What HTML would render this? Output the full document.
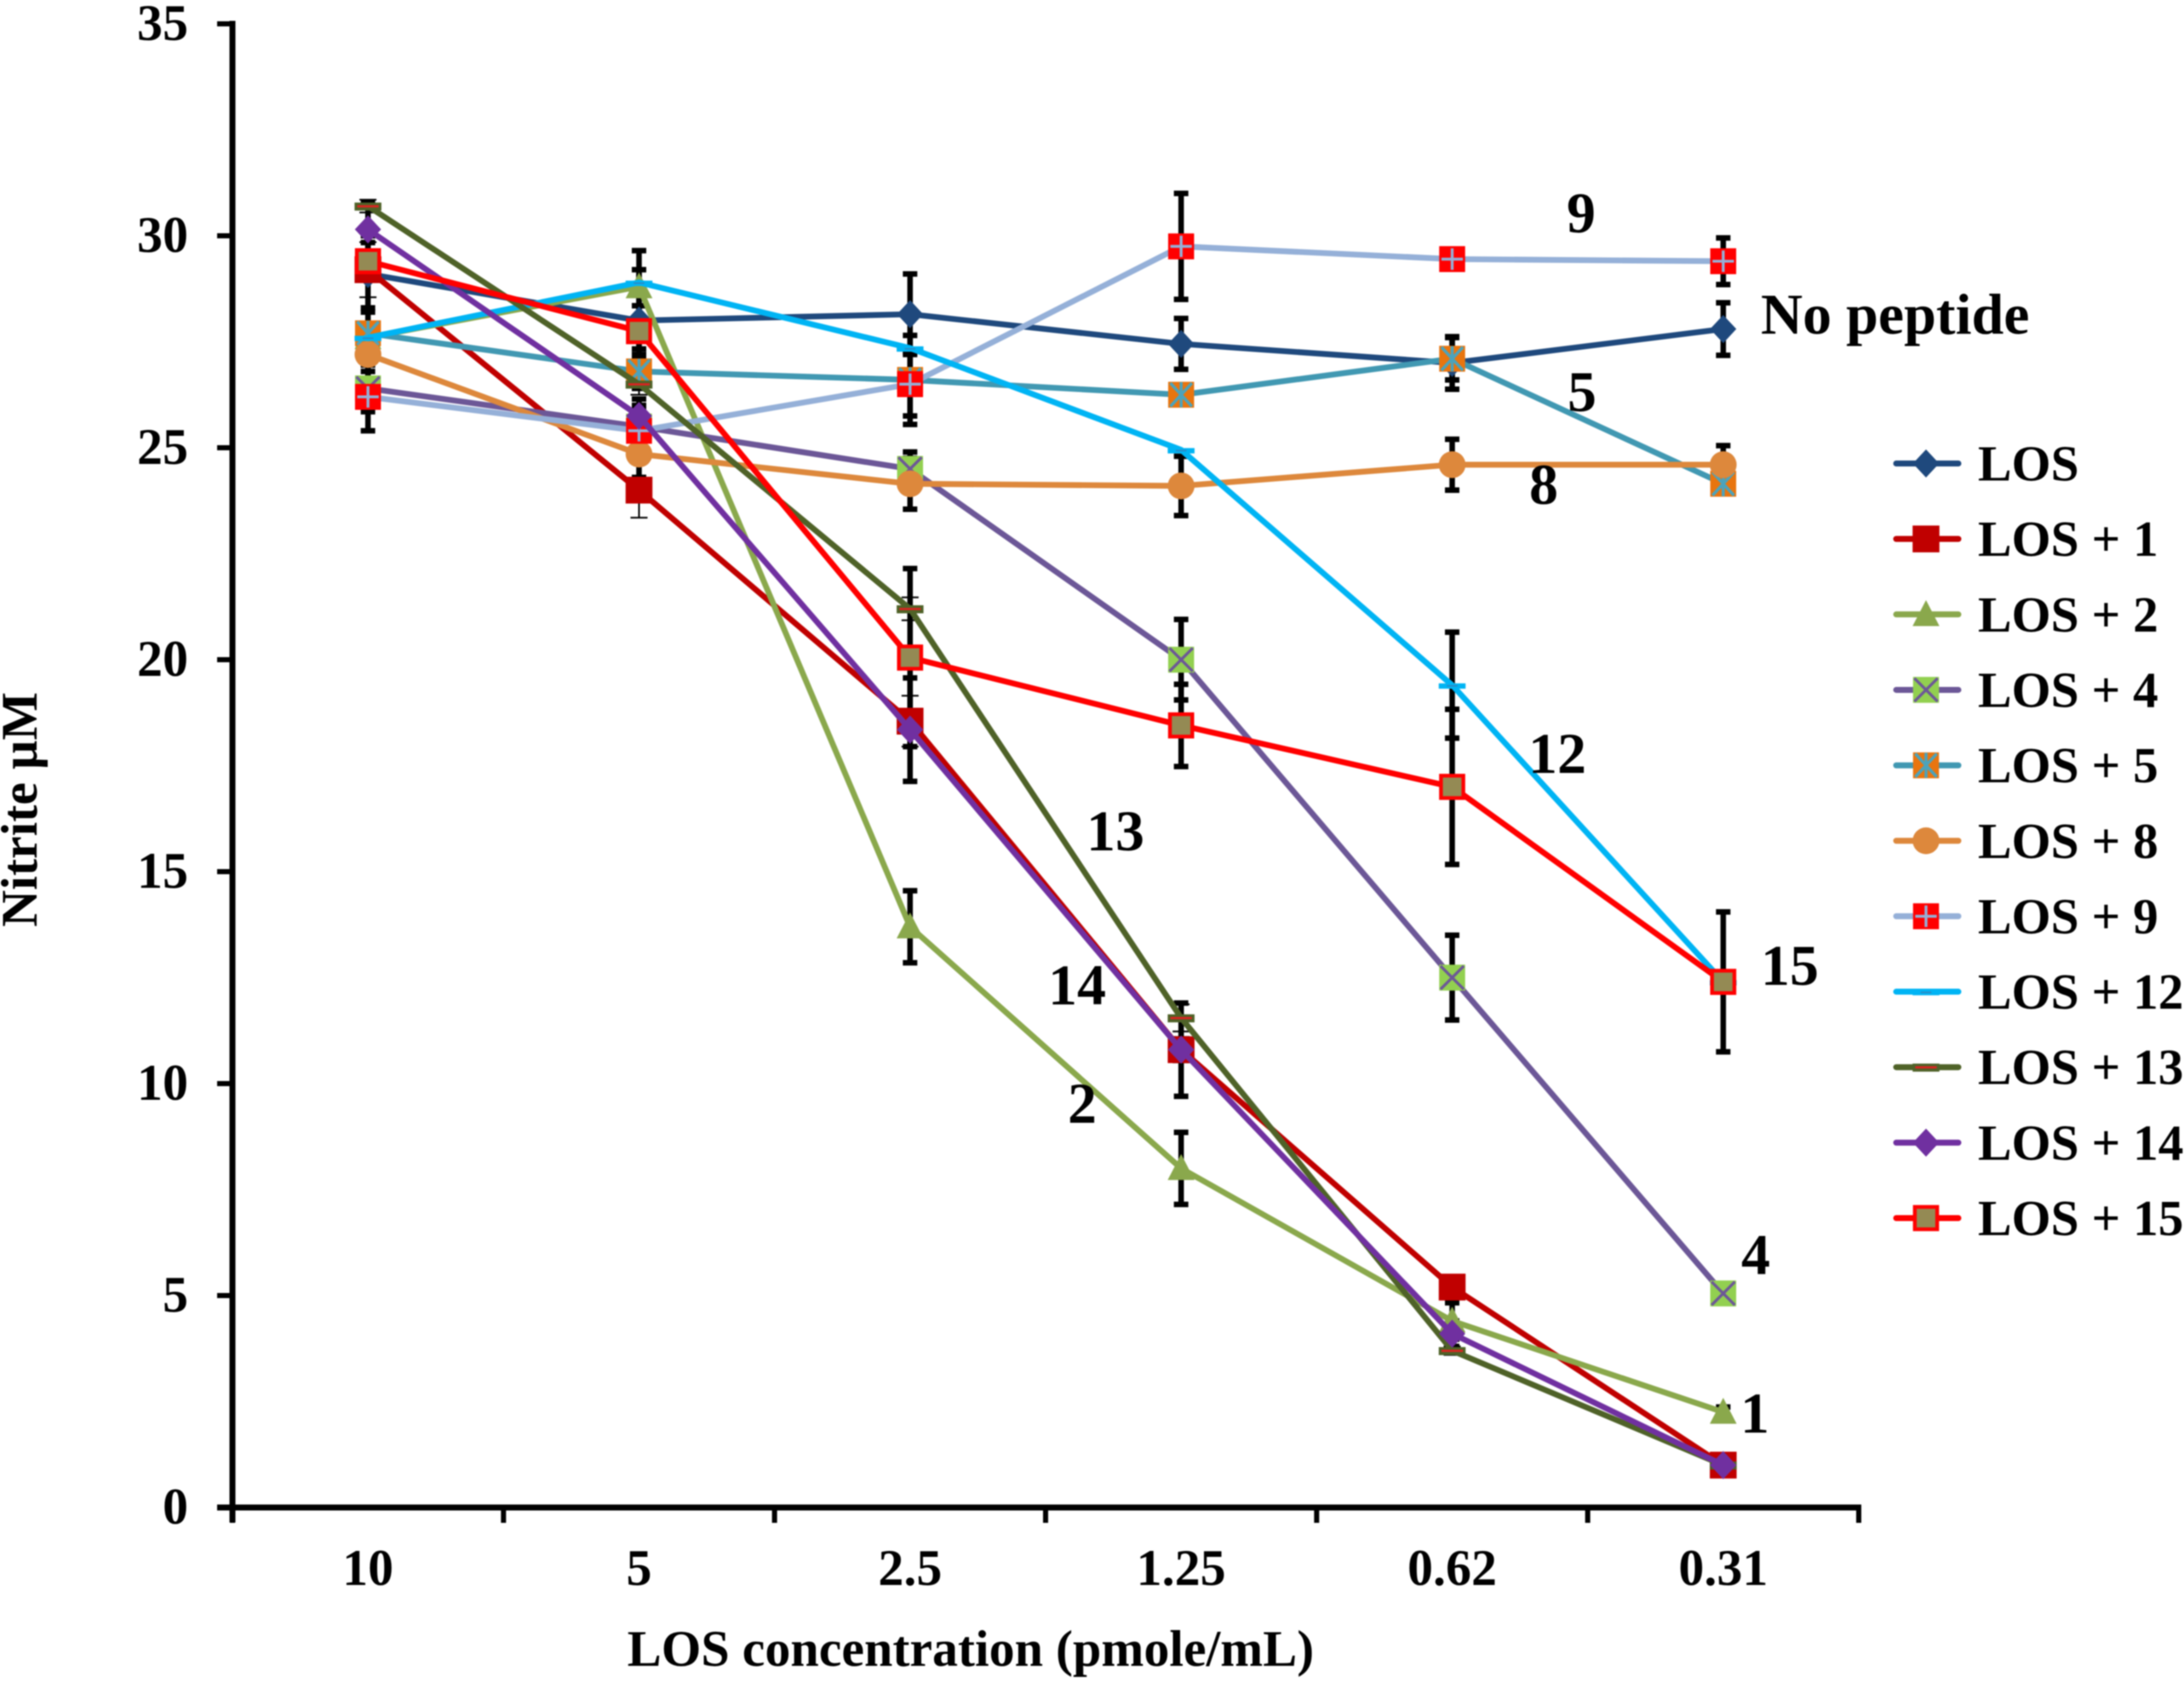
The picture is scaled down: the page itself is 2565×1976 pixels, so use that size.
<!DOCTYPE html>
<html lang="en">
<head>
<meta charset="utf-8">
<title>Nitrite vs LOS concentration</title>
<style>
html,body{margin:0;padding:0;background:#fff;}
#stage{display:block;width:2565px;height:1976px;filter:blur(0.8px);}
text{font-family:"Liberation Serif",serif;font-weight:bold;fill:#000;}
</style>
</head>
<body>
<svg id="stage" xmlns="http://www.w3.org/2000/svg" width="2565" height="1976" viewBox="0 0 2565 1976">
  <rect x="0" y="0" width="2565" height="1976" fill="#ffffff"/>
  <g id="errors"></g>
  <g id="series"></g>
  <g id="axes"></g>
  <g id="legend"></g>
  <text transform="translate(43,951) rotate(-90)" text-anchor="middle" font-size="60">Nitrite µM</text>
  <text x="1140" y="1957" text-anchor="middle" font-size="60">LOS concentration (pmole/mL)</text>
  <text x="2068" y="392" font-size="68">No peptide</text>
  <text x="1857" y="273" text-anchor="middle" font-size="68">9</text>
  <text x="1858" y="483" text-anchor="middle" font-size="68">5</text>
  <text x="1813" y="592" text-anchor="middle" font-size="68">8</text>
  <text x="1829" y="908" text-anchor="middle" font-size="68">12</text>
  <text x="1310" y="999" text-anchor="middle" font-size="68">13</text>
  <text x="1265" y="1180" text-anchor="middle" font-size="68">14</text>
  <text x="1271" y="1319" text-anchor="middle" font-size="68">2</text>
  <text x="2102" y="1157" text-anchor="middle" font-size="68">15</text>
  <text x="2062" y="1497" text-anchor="middle" font-size="68">4</text>
  <text x="2061" y="1683" text-anchor="middle" font-size="68">1</text>
</svg>
<script>
// ---- data ----
const categories = ["10", "5", "2.5", "1.25", "0.62", "0.31"];
const yTickLabels = [0, 5, 10, 15, 20, 25, 30, 35];
const seriesNames = ["LOS", "LOS + 1", "LOS + 2", "LOS + 4", "LOS + 5", "LOS + 8", "LOS + 9", "LOS + 12", "LOS + 13", "LOS + 14", "LOS + 15"];

const valuesLos   = [29.1, 28.0, 28.15, 27.45, 27.0, 27.8];
const valuesLos1  = [29.2, 24.0, 18.55, 10.8, 5.2, 1.0];
const valuesLos2  = [27.6, 28.8, 13.7, 8.0, 4.4, 2.25];
const valuesLos4  = [26.4, 25.5, 24.5, 20.0, 12.5, 5.05];
const valuesLos5  = [27.7, 26.8, 26.6, 26.25, 27.1, 24.15];
const valuesLos8  = [27.2, 24.85, 24.15, 24.1, 24.6, 24.6];
const valuesLos9  = [26.2, 25.4, 26.5, 29.75, 29.45, 29.4];
const valuesLos12 = [27.6, 28.9, 27.35, 24.95, 19.4, 12.4];
const valuesLos13 = [30.7, 26.5, 21.2, 11.55, 3.7, 1.0];
const valuesLos14 = [30.15, 25.75, 18.35, 10.8, 4.1, 1.0];
const valuesLos15 = [29.4, 27.75, 20.05, 18.45, 17.0, 12.4];

const errorLos   = [0.9, 0.67, 0.95, 0.6, 0.62, 0.62];
const errorLos1  = [0.65, 0.65, 0.6, 0.3, 0.2, 0.1];
const errorLos2  = [0.3, 0.85, 0.85, 0.85, 0.43, 0.12];
const errorLos4  = [0.55, 0.4, 0.4, 0.95, 1.0, 0.1];
const errorLos5  = [0.6, 0.4, 1.05, 0.15, 0.5, 0.2];
const errorLos8  = [0.4, 0.55, 0.6, 0.7, 0.6, 0.45];
const errorLos9  = [0.8, 0.6, 0.75, 1.25, 0, 0.55];
const errorLos12 = [0, 0.3, 0, 0, 1.25, 0];
const errorLos13 = [0.15, 0.25, 0.27, 0.32, 0.1, 0.05];
const errorLos14 = [0.63, 0.4, 1.22, 1.1, 0.3, 0.05];
const errorLos15 = [0.44, 0.6, 2.1, 0.97, 1.83, 1.65];

const seriesValues = [valuesLos, valuesLos1, valuesLos2, valuesLos4, valuesLos5, valuesLos8, valuesLos9, valuesLos12, valuesLos13, valuesLos14, valuesLos15];
const seriesErrors = [errorLos, errorLos1, errorLos2, errorLos4, errorLos5, errorLos8, errorLos9, errorLos12, errorLos13, errorLos14, errorLos15];

// ---- axis functions ----
const plotLeft = 273, plotRight = 2183, plotBottom = 1771, plotTop = 28, yMax = 35;
function xScale(i) { return plotLeft + (plotRight - plotLeft) * (i + 0.5) / categories.length; }
function yScale(v) { return plotBottom - (plotBottom - plotTop) * v / yMax; }

// ---- styles ----
function seriesStyle(idx) {
  switch (idx) {
    case 0: return { color: "#1F497D", kind: "diamond", fill: "#1F497D" };
    case 1: return { color: "#C00000", kind: "square", fill: "#C00000", thin: true };
    case 2: return { color: "#8AA84C", kind: "triangle", fill: "#8AA84C" };
    case 3: return { color: "#6C5797", kind: "xbox", fill: "#92D050" };
    case 4: return { color: "#4198B2", kind: "starbox", fill: "#E8750F" };
    case 5: return { color: "#DD883C", kind: "circle", fill: "#DD883C" };
    case 6: return { color: "#95B0D8", kind: "plusbox", fill: "#FF0000" };
    case 7: return { color: "#00B4F4", kind: "dash", fill: "#00B4F4" };
    case 8: return { color: "#4F6228", kind: "bar", fill: "#4F6228", thin: true };
    case 9: return { color: "#7030A0", kind: "diamond", fill: "#7030A0" };
    default: return { color: "#FF0000", kind: "framed", fill: "#948A54" };
  }
}

const NS = "http://www.w3.org/2000/svg";
function mk(tag, attrs, parent) {
  const el = document.createElementNS(NS, tag);
  for (const k in attrs) el.setAttribute(k, attrs[k]);
  parent.appendChild(el);
  return el;
}

function drawMarker(parent, cx, cy, st) {
  const g = mk("g", { transform: "translate(" + cx + "," + cy + ") scale(1.05)" }, parent);
  
  
  const c = st.color, f = st.fill;
  if (st.kind === "diamond") {
    mk("polygon", { points: "0,-15 14,0 0,15 -14,0", fill: f, stroke: f, "stroke-width": 1 }, g);
  } else if (st.kind === "square") {
    mk("rect", { x: -15, y: -15, width: 30, height: 30, fill: f }, g);
  } else if (st.kind === "triangle") {
    mk("polygon", { points: "0,-16 15,13 -15,13", fill: f }, g);
  } else if (st.kind === "circle") {
    mk("circle", { r: 15, fill: f }, g);
  } else if (st.kind === "xbox") {
    mk("rect", { x: -14.5, y: -14.5, width: 29, height: 29, fill: f }, g);
    mk("path", { d: "M-13,-13L13,13M13,-13L-13,13", stroke: c, "stroke-width": 3.2, fill: "none" }, g);
  } else if (st.kind === "starbox") {
    mk("rect", { x: -14.5, y: -14.5, width: 29, height: 29, fill: f }, g);
    mk("path", { d: "M-12,-13L12,13M12,-13L-12,13M0,-14L0,14", stroke: "#4BA3BC", "stroke-width": 3.4, fill: "none" }, g);
  } else if (st.kind === "plusbox") {
    mk("rect", { x: -14.5, y: -14.5, width: 29, height: 29, fill: f }, g);
    mk("path", { d: "M-12,0L12,0M0,-12L0,12", stroke: c, "stroke-width": 3.2, fill: "none" }, g);
  } else if (st.kind === "dash") {
    mk("rect", { x: -15, y: -2, width: 30, height: 6, fill: f }, g);
    mk("rect", { x: -6, y: 0, width: 12, height: 1.6, fill: "#2F86C0" }, g);
  } else if (st.kind === "bar") {
    mk("rect", { x: -15, y: -4, width: 30, height: 9, fill: f }, g);
    mk("rect", { x: -12, y: -1, width: 24, height: 2.4, fill: "#E02020" }, g);
  } else {
    mk("rect", { x: -12.5, y: -12.5, width: 25, height: 25, fill: f, stroke: c, "stroke-width": 4.2 }, g);
  }
}

// ---- error bars ----
const errorsGroup = document.getElementById("errors");
seriesValues.forEach(function (vals, s) {
  const st = seriesStyle(s);
  vals.forEach(function (v, i) {
    const e = seriesErrors[s][i];
    if (!e) return;
    const x = xScale(i), yHi = yScale(v + e), yLo = yScale(v - e);
    const stemW = st.thin ? 2 : 6.5, capW = st.thin ? 20 : 17, capH = st.thin ? 2 : 6.5;
    const bar = mk("g", {}, errorsGroup);
    
    
    mk("rect", { x: x - stemW / 2, y: yHi, width: stemW, height: yLo - yHi, fill: "#000" }, bar);
    mk("rect", { x: x - capW / 2, y: yHi - capH / 2, width: capW, height: capH, fill: "#000" }, bar);
    mk("rect", { x: x - capW / 2, y: yLo - capH / 2, width: capW, height: capH, fill: "#000" }, bar);
  });
});

// ---- series ----
const seriesGroup = document.getElementById("series");
seriesValues.forEach(function (vals, s) {
  const st = seriesStyle(s);
  const g = mk("g", {}, seriesGroup);
  
  
  const pts = vals.map(function (v, i) { return xScale(i) + "," + yScale(v); }).join(" ");
  const line = mk("polyline", { points: pts, fill: "none", stroke: st.color, "stroke-width": 6.8, "stroke-linejoin": "round" }, g);
  
  
  vals.forEach(function (v, i) { drawMarker(g, xScale(i), yScale(v), st); });
});

// ---- axes ----
const axesGroup = document.getElementById("axes");
const yAxisLine = mk("rect", { x: plotLeft - 3.5, y: plotTop - 3.5, width: 7, height: plotBottom - plotTop + 21 }, axesGroup);


const xAxisLine = mk("rect", { x: plotLeft - 18, y: plotBottom - 3.5, width: plotRight - plotLeft + 21, height: 7 }, axesGroup);



yTickLabels.forEach(function (t) {
  const y = yScale(t);
  const tick = mk("rect", { x: plotLeft - 18, y: y - 3, width: 18, height: 6 }, axesGroup);
  
  
  const lab = mk("text", { x: 221, y: y + 19, "text-anchor": "end", "font-size": 60 }, axesGroup);
  
  
  lab.textContent = String(t);
});
for (let i = 0; i <= categories.length; i++) {
  const x = plotLeft + (plotRight - plotLeft) * i / categories.length;
  const tick = mk("rect", { x: x - 3, y: plotBottom, width: 6, height: 18 }, axesGroup);
  
  
}
categories.forEach(function (c, i) {
  const lab = mk("text", { x: xScale(i), y: 1862, "text-anchor": "middle", "font-size": 60 }, axesGroup);
  
  
  lab.textContent = c;
});

// ---- legend ----
const legendGroup = document.getElementById("legend");
seriesNames.forEach(function (name, s) {
  const st = seriesStyle(s);
  const y = 544.5 + s * 88.65;
  const g = mk("g", {}, legendGroup);
  
  
  mk("line", { x1: 2227, x2: 2300, y1: y, y2: y, stroke: st.color, "stroke-width": 7, "stroke-linecap": "round" }, g);
  drawMarker(g, 2262, y, st);
  const lab = mk("text", { x: 2323, y: y + 20, "font-size": 59.3 }, g);
  
  
  lab.textContent = name;
});
</script>
</body>
</html>
